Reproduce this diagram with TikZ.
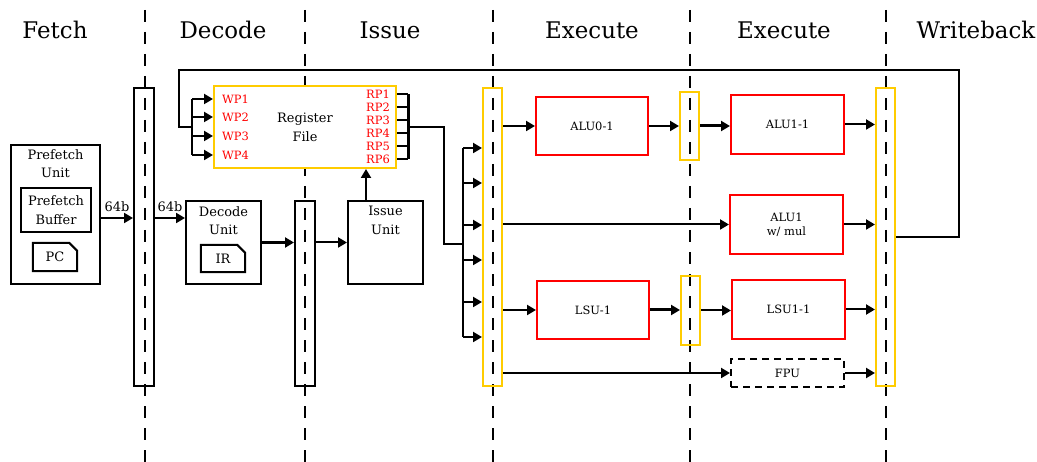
\documentclass[tikz,border=0pt]{standalone}
\usepackage{fontspec}
\setmainfont{DejaVu Serif}
\usetikzlibrary{arrows.meta, positioning, calc}
\definecolor{regyellow}{RGB}{255,204,0}

\begin{document}
\begin{tikzpicture}[
    x=1bp, y=-1bp,
    box/.style={draw, line width=2bp, inner sep=0pt, fill=white},
    boxtext/.style={font=\fontsize{13}{19}\selectfont, align=center, inner sep=0pt},
    exunit/.style={draw=red, line width=2bp, minimum width=113bp, minimum height=59bp, font=\fontsize{11.5}{14}\selectfont, align=center},
    latch/.style={draw, line width=2bp, minimum width=20bp, inner sep=0pt},
    ylatch/.style={latch, draw=regyellow},
    port/.style={text=red, font=\fontsize{11.5}{12}\selectfont, inner sep=0pt},
    stage/.style={font=\fontsize{23}{25}\selectfont},
    arrow/.style={-{Triangle[length=9bp, width=10bp]}, line width=2bp},
    bus/.style={line width=2bp},
    divider/.style={dash pattern=on 12bp off 10bp, line width=2bp}
]
\useasboundingbox (0,0) rectangle (1037,462);

% Stage names and dividers
\foreach \x/\t/\n in {55/Fetch/fetch, 223/Decode/decode, 390/Issue/issue, 592/Execute/exa, 784/Execute/exb, 976/Writeback/wb}
    \node[stage] (st\n) at (\x,30) {\t};
\foreach \x in {145,305,493,690,886}
    \draw[divider] (\x,10) -- (\x,462);

% Fetch
\node[box, minimum width=89bp, minimum height=139bp] (PFU) at (55.5,214.5) {};
\node[boxtext, anchor=north] (PFUt) at ($(PFU.north)+(0,5)$) {Prefetch\\Unit};
\node[box, boxtext, minimum width=70bp, minimum height=44bp] (PFB) at (56,210) {Prefetch\\Buffer};
\node[boxtext, minimum width=44bp, minimum height=28bp] (PC) at (55,257) {PC};
\draw[bus] (PC.south west) |- ($(PC.north east)+(-8,0)$) -- ($(PC.north east)+(0,8)$) |- cycle;

% Latches
\node[latch, minimum height=298bp] (FDL) at (144,237) {};
\node[latch, minimum height=185bp] (DIL) at (305,293.5) {};
\node[ylatch, minimum width=19bp, minimum height=298bp] (IEL) at (492.5,237) {};
\node[ylatch, minimum width=19bp, minimum height=68bp] (EL1) at (689.5,126) {};
\node[ylatch, minimum width=19bp, minimum height=69bp] (EL2) at (690.5,310.5) {};
\node[ylatch, minimum width=19bp, minimum height=298bp] (WBL) at (885.5,237) {};

% Decode
\node[box, minimum width=75bp, minimum height=83bp] (DU) at (223.5,242.5) {};
\node[boxtext, anchor=north] (DUt) at ($(DU.north)+(0,6)$) {Decode\\Unit};
\node[boxtext, minimum width=44bp, minimum height=27bp] (IR) at (223,258.5) {IR};
\draw[bus] (IR.south west) |- ($(IR.north east)+(-8,0)$) -- ($(IR.north east)+(0,8)$) |- cycle;

% Issue
\node[box, minimum width=75bp, minimum height=83bp] (IU) at (385.5,242.5) {};
\node[boxtext, anchor=north] (IUt) at ($(IU.north)+(0,6)$) {Issue\\Unit};

% Register file
\node[box, boxtext, draw=regyellow, minimum width=182bp, minimum height=82bp] (RF) at (305,127) {Register\\File};
\foreach \i/\y in {1/99,2/117,3/136,4/155}{
    \node[port, anchor=west] (WP\i) at (222,\y) {WP\i};
    \draw[arrow] ($(RF.west |- WP\i)+(-21,0)$) -- (RF.west |- WP\i);
}
\foreach \i/\y in {1/94,2/107,3/120,4/133,5/146,6/159}{
    \node[port, anchor=east] (RP\i) at (390,\y) {RP\i};
    \draw[bus] (RF.east |- RP\i) -- ++(11,0);
}
\draw[line width=3bp] ($(RF.east |- RP1)+(11,0)$) -- ($(RF.east |- RP6)+(11,0)$);

% Execute units
\node[exunit, minimum width=112bp, minimum height=58bp] (ALU0) at (592,126) {ALU0-1};
\node[exunit] (ALU1) at (787.5,124.5) {ALU1-1};
\node[exunit] (MUL) at (786.5,224.5) {ALU1\\w/ mul};
\node[exunit, minimum width=112bp, minimum height=58bp] (LSU0) at (593,310) {LSU-1};
\node[exunit] (LSU1) at (788.5,309.5) {LSU1-1};
\node[exunit, draw=black, dash pattern=on 7bp off 5bp, minimum height=28bp] (FPU) at (787.5,373) {FPU};

% Fetch and decode connections
\draw[arrow] ($(PFU.east)+(0,3.5)$) -- ($(PFU.east -| FDL.west)+(0,3.5)$) node[midway, above=5bp, boxtext] (w1) {64b};
\draw[arrow] ($(FDL.east)+(0,-19)$) -- ($(FDL.east -| DU.west)+(0,-19)$) node[midway, above=5bp, boxtext] (w2) {64b};
\draw[arrow, line width=3bp] (DU.east) -- (DU.east -| DIL.west);
\draw[arrow] (DIL.east |- IU.west) -- (IU.west);
\coordinate (iuout) at ($(IU.north west)+(19,0)$);
\draw[arrow] (iuout) -- (iuout |- RF.south);

% Writeback feedback
\draw[bus] (WBL.east) -| (959,70) -| (179,127) -- (193,127);
\draw[bus] ($(RF.west |- WP1)+(-21,0)$) -- ($(RF.west |- WP4)+(-21,0)$);

% Read ports to issue latch
\coordinate (dist) at (463,244);
\draw[bus] ($(RF.east)+(11,0)$) -- ++(36,0) |- (dist);
\draw[bus] (463,148) -- (463,337);
\foreach \y in {148,183,225,260,302,337}{
    \coordinate (d\y) at (463,\y);
    \draw[arrow] (d\y) -- (d\y -| IEL.west);
}

% Execute connections
\draw[arrow] (IEL.east |- ALU0.west) -- (ALU0.west);
\draw[arrow] (ALU0.east) -- (ALU0.east -| EL1.west);
\draw[arrow, line width=3bp] (EL1.east) -- (EL1.east -| ALU1.west);
\draw[arrow] (ALU1.east) -- (ALU1.east -| WBL.west);
\draw[arrow] (IEL.east |- MUL.west) -- (MUL.west);
\draw[arrow] (MUL.east) -- (MUL.east -| WBL.west);
\draw[arrow] (IEL.east |- LSU0.west) -- (LSU0.west);
\draw[arrow, line width=3bp] (LSU0.east) -- (LSU0.east -| EL2.west);
\draw[arrow] (EL2.east) -- (EL2.east -| LSU1.west);
\draw[arrow] (LSU1.east) -- (LSU1.east -| WBL.west);
\draw[arrow] (IEL.east |- FPU.west) -- (FPU.west);
\draw[arrow] (FPU.east) -- (FPU.east -| WBL.west);

\end{tikzpicture}
\end{document}
